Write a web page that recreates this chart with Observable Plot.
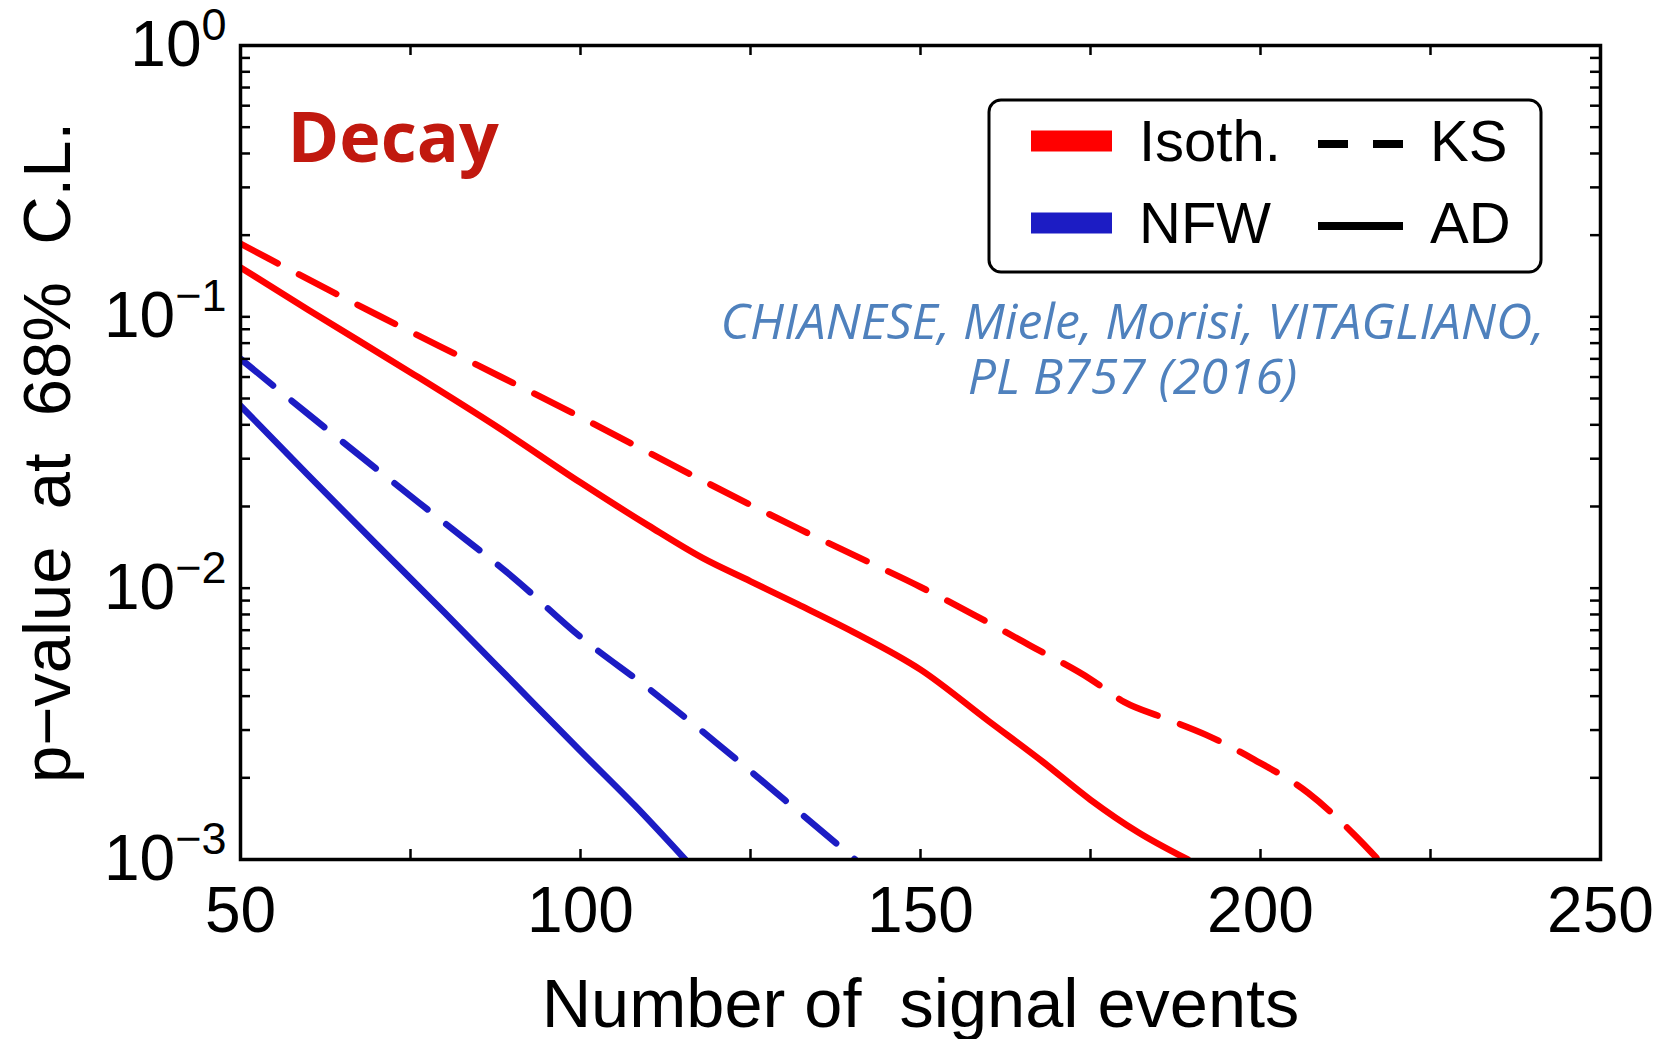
<!DOCTYPE html>
<html><head><meta charset="utf-8">
<script src="https://cdn.jsdelivr.net/npm/d3@7"></script>
<script src="https://cdn.jsdelivr.net/npm/@observablehq/plot@0.6"></script>
<style>
html,body{margin:0;padding:0;background:#fff;}
#chart svg text{white-space:pre;}
</style></head><body><div id="chart"></div>
<script>
// ---- data ----
const isothAD_n = [50, 60, 75, 88, 100, 110, 118, 125, 132, 140, 150, 160, 168, 175, 182, 189.3];
const isothAD_p = [0.152, 0.106, 0.0624, 0.0389, 0.0245, 0.0170, 0.0129, 0.0106, 0.00871, 0.00692, 0.00501, 0.00324, 0.00229, 0.00166, 0.00126, 0.00100];

const isothKS_n = [50, 70, 85, 100, 118, 132, 142, 150, 158, 166, 175, 180, 186, 192, 199, 207, 214, 217.3];
const isothKS_p = [0.186, 0.102, 0.0661, 0.0427, 0.0249, 0.0166, 0.0126, 0.0101, 0.00794, 0.00617, 0.00462, 0.00380, 0.00331, 0.00288, 0.00234, 0.00176, 0.00122, 0.00100];

const nfwAD_n = [50, 60, 70, 80, 90, 100, 108, 115.4];
const nfwAD_p = [0.0470, 0.0260, 0.0145, 0.00813, 0.00452, 0.00251, 0.00158, 0.00100];

const nfwKS_n = [50, 60, 70, 80, 90, 100, 110, 120, 130, 140.4];
const nfwKS_p = [0.0700, 0.0437, 0.0275, 0.0174, 0.0110, 0.00661, 0.00427, 0.00269, 0.00166, 0.00100];

const haloNames = ["Isoth.", "NFW"];
const testNames = ["KS", "AD"];
const xTickLabels = [50, 100, 150, 200, 250];
const xTickMarks = [75, 100, 125, 150, 175, 200, 225];
const yTickLabels = [1e-3, 1e-2, 1e-1, 1];
const yTickMarks = [2,3,4,5,6,7,8,9].flatMap(m => [m*1e-3, m*1e-2, m*1e-1]).concat([1e-2, 1e-1]);
const xTitle = "Number of  signal events";
const yTitle = "p\u2212value  at  68%  C.L.";
const panelLabel = "Decay";
const citation = "CHIANESE, Miele, Morisi, VITAGLIANO,\nPL B757 (2016)";

// ---- table ----
const rows = [];
function add(halo, test, ns, ps) { ns.forEach((n, i) => rows.push({halo, test, series: halo + " " + test, n, p: ps[i]})); }
add("Isoth.", "AD", isothAD_n, isothAD_p);
add("Isoth.", "KS", isothKS_n, isothKS_p);
add("NFW", "AD", nfwAD_n, nfwAD_p);
add("NFW", "KS", nfwKS_n, nfwKS_p);

const W = 1667, H = 1039, mL = 240, mR = 67, mT = 45, mB = 180;
const innerW = W - mL - mR, innerH = H - mT - mB;
const red = "#ff0000", blue = "#1c1cc4";
const tickLen = 10;
const dash = "42,24";

const chart = Plot.plot({
  width: W, height: H,
  marginLeft: mL, marginRight: mR, marginTop: mT, marginBottom: mB,
  style: {fontFamily: "'Liberation Sans', Arial, sans-serif", background: "#fff", color: "#000", overflow: "visible"},
  x: {domain: [50, 250], label: null},
  y: {type: "log", domain: [1e-3, 1], label: null},
  color: {domain: haloNames, range: [red, blue]},
  marks: [
    Plot.line(rows.filter(d => d.test === "AD"), {x: "n", y: "p", z: "series", stroke: "halo", strokeWidth: 6.5, curve: "monotone-x", clip: true}),
    Plot.line(rows.filter(d => d.test === "KS"), {x: "n", y: "p", z: "series", stroke: "halo", strokeWidth: 6.5, strokeDasharray: dash, curve: "monotone-x", clip: true}),
    // inward ticks on all four sides
    Plot.tickX(xTickMarks, {x: d => d, insetTop: innerH - tickLen, stroke: "#000", strokeWidth: 2.5}),
    Plot.tickX(xTickMarks, {x: d => d, insetBottom: innerH - tickLen, stroke: "#000", strokeWidth: 2.5}),
    Plot.tickY(yTickMarks, {y: d => d, insetRight: innerW - tickLen, stroke: "#000", strokeWidth: 2.5}),
    Plot.tickY(yTickMarks, {y: d => d, insetLeft: innerW - tickLen, stroke: "#000", strokeWidth: 2.5}),
    Plot.frame({stroke: "#000", strokeWidth: 3.5}),
    Plot.axisX({ticks: xTickLabels, tickSize: 0, tickPadding: 27, fontSize: 64, label: null, tickFormat: d => String(d)}),
    Plot.axisY({ticks: yTickLabels, tickSize: 0, tickPadding: 14, fontSize: 64, label: null, tickFormat: d => String(Math.round(Math.log10(d)))}),
    Plot.text([xTitle], {text: d => d, frameAnchor: "bottom", textAnchor: "middle", lineAnchor: "bottom", dy: 167, fontSize: 68.5, fill: "#000"}),
    Plot.text([yTitle], {text: d => d, frameAnchor: "left", textAnchor: "middle", lineAnchor: "bottom", rotate: -90, dx: -171, fontSize: 67, fill: "#000"}),
    Plot.text([panelLabel], {text: d => d, frameAnchor: "top-left", textAnchor: "start", lineAnchor: "bottom", dx: 47, dy: 116, fontSize: 70, fontWeight: "bold", fontFamily: "'Open Sans', sans-serif", fill: "#c1190f"}),
    Plot.text([citation], {text: d => d, frameAnchor: "top-left", textAnchor: "middle", lineAnchor: "bottom", lineHeight: 1.1, dx: 892, dy: 348, fontSize: 50, fontStyle: "italic", fontFamily: "'Open Sans', sans-serif", fill: "#4f81bd"})
  ]
});

document.getElementById("chart").appendChild(chart);

// superscript exponents for the log-axis labels
const svg = d3.select(chart);
svg.selectAll('g[aria-label="y-axis tick label"] text').each(function () {
  const t = d3.select(this);
  const e = t.text().replace("-", "\u2212");
  t.text(null);
  t.append("tspan").text("10");
  t.append("tspan").attr("dy", -26).attr("font-size", 45).text(e);
});

// legend (inside the frame, top-right)
const lg = svg.append("g").attr("class", "legend")
  .attr("font-family", "'Liberation Sans', Arial, sans-serif").attr("font-size", 58).attr("text-anchor", "start");
const bx = W - mR - 611, by = mT + 55;
lg.append("rect").attr("x", bx).attr("y", by).attr("width", 552).attr("height", 172).attr("rx", 12)
  .attr("fill", "#fff").attr("stroke", "#000").attr("stroke-width", 3);
const rowY = [by + 41, by + 123];
haloNames.forEach((h, i) => {
  lg.append("line").attr("x1", bx + 42).attr("x2", bx + 123).attr("y1", rowY[i]).attr("y2", rowY[i])
    .attr("stroke", i === 0 ? red : blue).attr("stroke-width", 21);
  lg.append("text").attr("x", bx + 150).attr("y", rowY[i] + 20).attr("fill", "#000").text(h);
});
testNames.forEach((t, i) => {
  lg.append("line").attr("x1", bx + 329).attr("x2", bx + 414).attr("y1", rowY[i] + 3).attr("y2", rowY[i] + 3)
    .attr("stroke", "#000").attr("stroke-width", 8).attr("stroke-dasharray", t === "KS" ? "30,25" : null);
  lg.append("text").attr("x", bx + 441).attr("y", rowY[i] + 20).attr("fill", "#000").text(t);
});
</script></body></html>
